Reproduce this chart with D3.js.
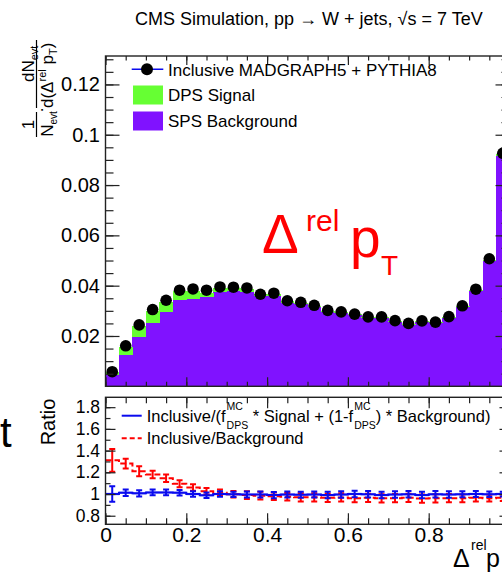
<!DOCTYPE html>
<html>
<head>
<meta charset="utf-8">
<script src="https://cdn.jsdelivr.net/npm/d3@7"></script>
<style>
  body { margin: 0; background: #fff; }
  svg { display: block; }
  text { font-family: "Liberation Sans", Arial, Helvetica, sans-serif; fill: #000; white-space: pre; }
</style>
</head>
<body>
<svg id="chart" width="502" height="577"></svg>
<script>
// ---- data: 30 bins in Delta^rel pT over [0, 1] ----
const nBins = 30;
const inclusive = [0.0058, 0.0161, 0.0244, 0.0305, 0.0342, 0.0382, 0.0387, 0.0382, 0.0395, 0.0394,
                   0.0391, 0.0366, 0.0370, 0.0340, 0.0334, 0.0322, 0.0302, 0.0296, 0.0287, 0.0276,
                   0.0276, 0.0261, 0.0250, 0.0260, 0.0255, 0.0277, 0.0320, 0.0386, 0.0507, 0.0926];
const spsBackground = [0.0045, 0.0124, 0.0195, 0.0250, 0.0294, 0.0343, 0.0347, 0.0356, 0.0374, 0.0379,
                       0.0376, 0.0359, 0.0360, 0.0332, 0.0327, 0.0316, 0.0297, 0.0291, 0.0282, 0.0271,
                       0.0271, 0.0256, 0.0245, 0.0255, 0.0250, 0.0272, 0.0314, 0.0379, 0.0497, 0.0914];
const dpsSignal = [0.0011, 0.0033, 0.0046, 0.0049, 0.0041, 0.0037, 0.0033, 0.0015, 0.0017, 0.0011,
                   0.0009, 0.0006, 0.0007, 0.0006, 0.0005, 0.0005, 0.0004, 0.0004, 0.0004, 0.0004,
                   0.0004, 0.0004, 0.0004, 0.0004, 0.0004, 0.0004, 0.0004, 0.0005, 0.0007, 0.0008];

// ratio panel: Inclusive/(f*Signal + (1-f)*Background) and Inclusive/Background
const ratioFit = [1.000, 1.012, 1.006, 1.015, 1.015, 1.012, 1.000, 0.988, 1.000, 0.997,
                  0.995, 0.995, 0.990, 0.995, 0.993, 0.995, 0.990, 0.995, 1.000, 0.998,
                  0.990, 0.995, 0.997, 0.990, 0.998, 0.995, 0.998, 1.000, 0.998, 1.000];
const ratioFitErr = [0.072, 0.030, 0.028, 0.026, 0.026, 0.025, 0.025, 0.025, 0.025, 0.025,
                     0.028, 0.028, 0.028, 0.028, 0.028, 0.028, 0.030, 0.030, 0.030, 0.030,
                     0.030, 0.030, 0.030, 0.030, 0.030, 0.030, 0.028, 0.028, 0.025, 0.022];
const ratioBkg = [1.310, 1.280, 1.210, 1.180, 1.145, 1.095, 1.060, 1.025, 1.012, 0.998,
                  0.990, 0.985, 0.980, 0.975, 0.970, 0.970, 0.965, 0.968, 0.962, 0.965,
                  0.960, 0.962, 0.965, 0.958, 0.960, 0.962, 0.960, 0.965, 0.962, 0.965];
const ratioBkgErr = [0.105, 0.046, 0.046, 0.035, 0.035, 0.032, 0.030, 0.030, 0.030, 0.030,
                     0.035, 0.035, 0.035, 0.035, 0.038, 0.038, 0.038, 0.038, 0.038, 0.038,
                     0.038, 0.038, 0.038, 0.038, 0.038, 0.038, 0.035, 0.035, 0.032, 0.030];

// tick labels (the label at 1 falls outside the visible canvas)
const xTickValues = [0, 0.2, 0.4, 0.6, 0.8, 1];
const xTickLabels = ["0", "0.2", "0.4", "0.6", "0.8", ""];
const yTickValuesTop = [0.02, 0.04, 0.06, 0.08, 0.1, 0.12];
const yTickLabelsTop = ["0.02", "0.04", "0.06", "0.08", "0.1", "0.12"];
const yTickValuesRatio = [0.8, 1, 1.2, 1.4, 1.6, 1.8];
const yTickLabelsRatio = ["0.8", "1", "1.2", "1.4", "1.6", "1.8"];

// ---- layout ----
const svg = d3.select("#chart");
const L = 105.5, R = 509.5;
const topPanel = { t: 56, b: 386.3 };
const ratioPanel = { t: 397.3, b: 524.3 };

const x = d3.scaleLinear().domain([0, 1]).range([L, R]);
const y = d3.scaleLinear().domain([0, 0.1313]).range([topPanel.b, topPanel.t]);
const yr = d3.scaleLinear().domain([0.721, 1.891]).range([ratioPanel.b, ratioPanel.t]);

const purple = "#8012ff";
const green = "#66ff33";
const blue = "#0a0aee";
const red = "#ff0000";
const axisColor = "#222";

const bins = d3.range(nBins).map(i => ({
  i, lo: i / nBins, hi: (i + 1) / nBins, mid: (i + 0.5) / nBins,
  sps: spsBackground[i], dps: dpsSignal[i], inc: inclusive[i],
  rf: ratioFit[i], rfe: ratioFitErr[i], rb: ratioBkg[i], rbe: ratioBkgErr[i]
}));

svg.append("defs").append("clipPath").attr("id", "clipTop")
  .append("rect").attr("x", L).attr("y", topPanel.t).attr("width", R - L).attr("height", topPanel.b - topPanel.t);
svg.select("defs").append("clipPath").attr("id", "clipRatio")
  .append("rect").attr("x", L).attr("y", ratioPanel.t).attr("width", R - L).attr("height", ratioPanel.b - ratioPanel.t);

// ---- top panel: stacked histogram ----
const gTop = svg.append("g").attr("clip-path", "url(#clipTop)");
gTop.selectAll("rect.sps").data(bins).join("rect").attr("class", "sps")
  .attr("x", d => x(d.lo)).attr("width", d => x(d.hi) - x(d.lo) + 0.4)
  .attr("y", d => y(d.sps)).attr("height", d => y(0) - y(d.sps))
  .attr("fill", purple).attr("shape-rendering", "crispEdges");
gTop.selectAll("rect.dps").data(bins).join("rect").attr("class", "dps")
  .attr("x", d => x(d.lo)).attr("width", d => x(d.hi) - x(d.lo) + 0.4)
  .attr("y", d => y(d.sps + d.dps)).attr("height", d => y(d.sps) - y(d.sps + d.dps))
  .attr("fill", green).attr("shape-rendering", "crispEdges");
gTop.selectAll("circle.inc").data(bins).join("circle").attr("class", "inc")
  .attr("cx", d => x(d.mid)).attr("cy", d => y(d.inc)).attr("r", 5.8).attr("fill", "#000");

// ---- axes helper ----
function drawAxis(axis, transform, labelSize) {
  const g = svg.append("g").attr("transform", transform).call(axis);
  g.select(".domain").remove();
  g.selectAll("line").attr("stroke", axisColor).attr("stroke-width", 1.2);
  g.selectAll("text").style("font-size", labelSize ? labelSize + "px" : null)
    .attr("fill", "#000").style("font-family", '"Liberation Sans", Arial, sans-serif');
  return g;
}
const labelOf = (vals, labels) => v => labels[vals.indexOf(v)];
const minorX = d3.range(0, 1.0001, 0.05).map(v => +v.toFixed(2));
const minorYTop = d3.range(0.005, 0.1311, 0.005).map(v => +v.toFixed(3));
const minorYRatio = d3.range(0.8, 1.85, 0.1).map(v => +v.toFixed(1));

// top panel ticks
drawAxis(d3.axisBottom(x).tickValues(minorX).tickSize(-4.5).tickSizeOuter(0).tickFormat(""), `translate(0,${topPanel.b})`);
drawAxis(d3.axisBottom(x).tickValues(xTickValues).tickSize(-9).tickSizeOuter(0).tickFormat(""), `translate(0,${topPanel.b})`);
drawAxis(d3.axisTop(x).tickValues(minorX).tickSize(-4.5).tickSizeOuter(0).tickFormat(""), `translate(0,${topPanel.t})`);
drawAxis(d3.axisTop(x).tickValues(xTickValues).tickSize(-9).tickSizeOuter(0).tickFormat(""), `translate(0,${topPanel.t})`);
drawAxis(d3.axisLeft(y).tickValues(minorYTop).tickSize(-8).tickSizeOuter(0).tickFormat(""), `translate(${L},0)`);
drawAxis(d3.axisLeft(y).tickValues(yTickValuesTop).tickSize(-14).tickSizeOuter(0).tickPadding(5.5)
  .tickFormat(labelOf(yTickValuesTop, yTickLabelsTop)), `translate(${L},0)`, 20);
drawAxis(d3.axisRight(y).tickValues(minorYTop).tickSize(-8).tickSizeOuter(0).tickFormat(""), `translate(${R},0)`);
drawAxis(d3.axisRight(y).tickValues(yTickValuesTop).tickSize(-14).tickSizeOuter(0).tickFormat(""), `translate(${R},0)`);

svg.append("rect").attr("x", L).attr("y", topPanel.t).attr("width", R - L).attr("height", topPanel.b - topPanel.t)
  .attr("fill", "none").attr("stroke", axisColor).attr("stroke-width", 1.4);

// ---- ratio panel ----
const gRat = svg.append("g").attr("clip-path", "url(#clipRatio)");
gRat.selectAll("rect.band").data(bins).join("rect").attr("class", "band")
  .attr("x", d => x(d.lo)).attr("width", d => x(d.hi) - x(d.lo) + 0.3)
  .attr("y", d => yr(d.rf + 0.012)).attr("height", d => yr(d.rf - 0.012) - yr(d.rf + 0.012))
  .attr("fill", "#a9b0ff");

const stepLine = d3.line().x(d => x(d[0])).y(d => yr(d[1])).curve(d3.curveStepAfter);
function stepPoints(vals) {
  return vals.map((v, i) => [i / nBins, v]).concat([[1, vals[vals.length - 1]]]);
}
function errPath(d, v, e) {
  const cx = x(d.mid), y1 = yr(v - e), y2 = yr(v + e), c = 3;
  return `M${cx},${y1}V${y2}M${cx - c},${y2}H${cx + c}M${cx - c},${y1}H${cx + c}`;
}
// Inclusive/Background (dashed red)
gRat.append("path").attr("d", stepLine(stepPoints(ratioBkg)))
  .attr("fill", "none").attr("stroke", red).attr("stroke-width", 2).attr("stroke-dasharray", "6,3");
gRat.selectAll("path.errB").data(bins).join("path").attr("class", "errB")
  .attr("d", d => errPath(d, d.rb, d.rbe)).attr("fill", "none").attr("stroke", red).attr("stroke-width", 2);
// Inclusive/(f*Signal + (1-f)*Background) (solid blue)
gRat.append("path").attr("d", stepLine(stepPoints(ratioFit)))
  .attr("fill", "none").attr("stroke", blue).attr("stroke-width", 2);
gRat.selectAll("path.errF").data(bins).join("path").attr("class", "errF")
  .attr("d", d => errPath(d, d.rf, d.rfe)).attr("fill", "none").attr("stroke", blue).attr("stroke-width", 2);

// ratio ticks
drawAxis(d3.axisBottom(x).tickValues(minorX).tickSize(-6).tickSizeOuter(0).tickFormat(""), `translate(0,${ratioPanel.b})`);
drawAxis(d3.axisBottom(x).tickValues(xTickValues).tickSize(-11).tickSizeOuter(0).tickPadding(3)
  .tickFormat(labelOf(xTickValues, xTickLabels)), `translate(0,${ratioPanel.b})`, 21);
drawAxis(d3.axisTop(x).tickValues(minorX).tickSize(-6).tickSizeOuter(0).tickFormat(""), `translate(0,${ratioPanel.t})`);
drawAxis(d3.axisTop(x).tickValues(xTickValues).tickSize(-11).tickSizeOuter(0).tickFormat(""), `translate(0,${ratioPanel.t})`);
drawAxis(d3.axisLeft(yr).tickValues(minorYRatio).tickSize(-5).tickSizeOuter(0).tickFormat(""), `translate(${L},0)`);
drawAxis(d3.axisLeft(yr).tickValues(yTickValuesRatio).tickSize(-10).tickSizeOuter(0).tickPadding(5.5)
  .tickFormat(labelOf(yTickValuesRatio, yTickLabelsRatio)), `translate(${L},0)`, 17.5);
drawAxis(d3.axisRight(yr).tickValues(minorYRatio).tickSize(-5).tickSizeOuter(0).tickFormat(""), `translate(${R},0)`);
drawAxis(d3.axisRight(yr).tickValues(yTickValuesRatio).tickSize(-10).tickSizeOuter(0).tickFormat(""), `translate(${R},0)`);

svg.append("rect").attr("x", L).attr("y", ratioPanel.t).attr("width", R - L).attr("height", ratioPanel.b - ratioPanel.t)
  .attr("fill", "none").attr("stroke", axisColor).attr("stroke-width", 1.4);

// ---- texts ----
function txt(parent, xx, yy, size, s, opts = {}) {
  const t = parent.append("text").attr("x", xx).attr("y", yy).style("font-size", size + "px").text(s);
  if (opts.fill) t.style("fill", opts.fill);
  if (opts.anchor) t.attr("text-anchor", opts.anchor);
  return t;
}

// title
const title = txt(svg, 135, 25, 18, "CMS Simulation, pp \u2192 W + jets, ");
let tx = 135 + title.node().getComputedTextLength();
const sq = txt(svg, tx, 25, 18, "\u221As");
txt(svg, tx + sq.node().getComputedTextLength(), 25, 18, " = 7 TeV");

// top legend
svg.append("line").attr("x1", 131.7).attr("x2", 163.3).attr("y1", 69.3).attr("y2", 69.3)
  .attr("stroke", blue).attr("stroke-width", 1.5);
svg.append("circle").attr("cx", 147).attr("cy", 69.3).attr("r", 6).attr("fill", "#000");
svg.append("rect").attr("x", 133).attr("y", 85.5).attr("width", 30).attr("height", 19).attr("fill", green);
svg.append("rect").attr("x", 133).attr("y", 111.5).attr("width", 30).attr("height", 19).attr("fill", purple);
txt(svg, 168, 76, 17, "Inclusive MADGRAPH5 + PYTHIA8");
txt(svg, 168, 100.5, 17, "DPS Signal");
txt(svg, 168, 126.5, 17, "SPS Background");

// big red variable label
txt(svg, 262, 253, 55, "\u0394", { fill: red });
txt(svg, 306, 231, 30, "rel", { fill: red });
txt(svg, 350, 257, 55, "p", { fill: red });
txt(svg, 381, 275, 28, "T", { fill: red });

// ratio legend
svg.append("line").attr("x1", 121.7).attr("x2", 141.7).attr("y1", 415.7).attr("y2", 415.7)
  .attr("stroke", blue).attr("stroke-width", 2);
svg.append("line").attr("x1", 121.7).attr("x2", 141.7).attr("y1", 438.3).attr("y2", 438.3)
  .attr("stroke", red).attr("stroke-width", 2).attr("stroke-dasharray", "5,3");
{
  let cx = 146.7;
  const a = txt(svg, cx, 421.7, 16.5, "Inclusive/(f");
  cx += a.node().getComputedTextLength() + 1;
  const s1 = txt(svg, cx, 410, 10.5, "MC");
  const d1 = txt(svg, cx, 428.5, 10.5, "DPS");
  cx += Math.max(s1.node().getComputedTextLength(), d1.node().getComputedTextLength());
  const b = txt(svg, cx, 421.7, 16.5, " * Signal + (1-f");
  cx += b.node().getComputedTextLength() + 1;
  const s2 = txt(svg, cx, 410, 10.5, "MC");
  const d2 = txt(svg, cx, 428.5, 10.5, "DPS");
  cx += Math.max(s2.node().getComputedTextLength(), d2.node().getComputedTextLength());
  txt(svg, cx, 421.7, 16.5, ") * Background)");
  txt(svg, 146.7, 444, 16.5, "Inclusive/Background");
}

// y-axis title of top panel: 1/N_evt . dN_evt / d(Delta^rel p_T), rotated
{
  const g = svg.append("g").attr("transform", "rotate(-90)");
  // first fraction 1/N_evt
  txt(g, -124.5, 34, 17, "1", { anchor: "middle" });
  g.append("line").attr("x1", -137).attr("x2", -112).attr("y1", 36.5).attr("y2", 36.5)
    .attr("stroke", "#000").attr("stroke-width", 1.2);
  const n = g.append("text").attr("x", -124).attr("y", 53).attr("text-anchor", "middle");
  n.append("tspan").style("font-size", "17px").text("N");
  n.append("tspan").style("font-size", "10px").attr("dy", 3.5).text("evt");
  txt(g, -110, 42.5, 17, ".", { anchor: "middle" });
  // second fraction dN_evt / d(Delta^rel p_T)
  const num = g.append("text").attr("x", -82).attr("y", 34);
  num.append("tspan").style("font-size", "17px").text("dN");
  num.append("tspan").style("font-size", "11px").attr("dy", 3.5).text("evt");
  g.append("line").attr("x1", -108).attr("x2", -40).attr("y1", 36.5).attr("y2", 36.5)
    .attr("stroke", "#000").attr("stroke-width", 1.2);
  const den = g.append("text").attr("x", -108).attr("y", 53);
  den.append("tspan").style("font-size", "17px").text("d(\u0394");
  den.append("tspan").style("font-size", "11px").attr("dy", -7).text("rel");
  den.append("tspan").style("font-size", "17px").attr("dy", 7).text(" p");
  den.append("tspan").style("font-size", "11px").attr("dy", 3.5).text("T");
  den.append("tspan").style("font-size", "17px").attr("dy", -3.5).text(")");
}

// ratio y title
svg.append("text").attr("transform", "translate(55,422) rotate(-90)").attr("text-anchor", "middle")
  .style("font-size", "20px").text("Ratio");

// x-axis title (runs past the right edge of the canvas)
txt(svg, 453, 567, 25, "\u0394");
txt(svg, 471, 550, 14, "rel");
txt(svg, 486, 567, 25, "p");

// letter from the neighbouring panel edge
txt(svg, 0, 447, 42, "t");
</script>
</body>
</html>
